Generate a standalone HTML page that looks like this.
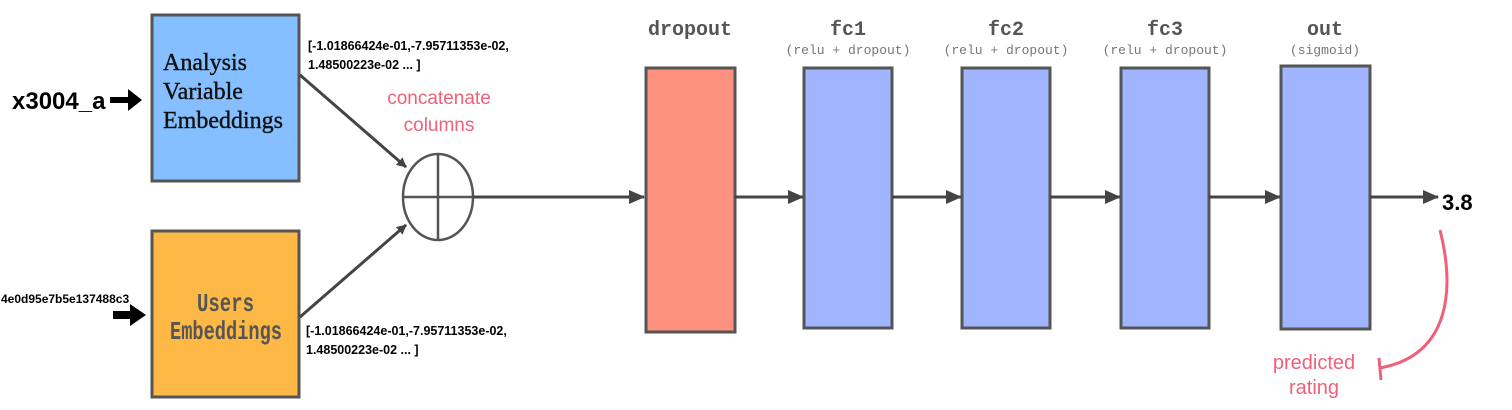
<!DOCTYPE html>
<html><head><meta charset="utf-8"><style>
body{margin:0;background:#fff;width:1512px;height:410px;overflow:hidden}
svg{display:block}
.mono{font-family:"Liberation Mono",monospace}
.sans{font-family:"Liberation Sans",sans-serif}
</style></head><body>
<svg width="1512" height="410" viewBox="0 0 1512 410">
<defs>
<marker id="ah" markerWidth="10" markerHeight="10" refX="9" refY="5" orient="auto" markerUnits="userSpaceOnUse"><path d="M0,0 L10,5 L0,10 z" fill="#444"/></marker>
<marker id="ah2" markerWidth="16" markerHeight="14" refX="15" refY="7" orient="auto" markerUnits="userSpaceOnUse"><path d="M0,0 L16,7 L0,14 z" fill="#444"/></marker>
</defs>
<g>
<text x="12" y="109" class="sans" font-size="24" font-weight="bold" fill="#000">x3004_a</text>
<path d="M110,97 h18 v-8 l14,11 l-14,11 v-8 h-18z" fill="#000"/>
</g>
<g>
<text x="1" y="303" class="sans" font-size="12" font-weight="bold" fill="#000">4e0d95e7b5e137488c3</text>
<path d="M113,311 h17 v-7 l16,11 l-16,11 v-7 h-17z" fill="#000"/>
</g>
<rect x="152" y="15" width="147" height="166" fill="#85bfff" stroke="#555" stroke-width="3"/>
<text font-family="'Liberation Serif',serif" font-size="24" fill="#111" stroke="#111" stroke-width="0.4"><tspan x="163" y="70">Analysis</tspan><tspan x="163" y="99">Variable</tspan><tspan x="163" y="128">Embeddings</tspan></text>
<rect x="152" y="231" width="147" height="166" fill="#fdb845" stroke="#555" stroke-width="3"/>
<text class="mono" font-size="26" font-weight="bold" fill="#555"><tspan x="197" y="311" textLength="57" lengthAdjust="spacingAndGlyphs">Users</tspan><tspan x="170" y="339" textLength="112" lengthAdjust="spacingAndGlyphs">Embeddings</tspan></text>
<text class="sans" font-size="12.5" font-weight="bold" fill="#000"><tspan x="308" y="50">[-1.01866424e-01,-7.95711353e-02,</tspan><tspan x="308" y="69">1.48500223e-02 ... ]</tspan></text>
<text class="sans" font-size="12.5" font-weight="bold" fill="#000"><tspan x="306" y="335">[-1.01866424e-01,-7.95711353e-02,</tspan><tspan x="306" y="354">1.48500223e-02 ... ]</tspan></text>
<text class="sans" font-size="19" fill="#f0607a" text-anchor="middle"><tspan x="439" y="104">concatenate</tspan><tspan x="439" y="131">columns</tspan></text>
<line x1="300" y1="75" x2="406" y2="167" stroke="#444" stroke-width="3" marker-end="url(#ah)"/>
<line x1="300" y1="317" x2="406" y2="225" stroke="#444" stroke-width="3" marker-end="url(#ah)"/>
<g stroke="#555" stroke-width="2.5" fill="none">
<ellipse cx="438" cy="197" rx="35" ry="43"/><line x1="403" y1="197" x2="473" y2="197"/><line x1="438" y1="154" x2="438" y2="240"/>
</g>
<line x1="473" y1="197" x2="644" y2="197" stroke="#444" stroke-width="3" marker-end="url(#ah2)"/>
<rect x="646" y="68" width="89" height="264" fill="#fe9180" stroke="#555" stroke-width="3"/>
<text x="690" y="35" class="mono" font-size="20" font-weight="bold" fill="#555" text-anchor="middle">dropout</text>
<g class="layers">
<rect x="804" y="68" width="88" height="260" fill="#a0b4ff" stroke="#555" stroke-width="3"/>
<rect x="962" y="68" width="88" height="260" fill="#a0b4ff" stroke="#555" stroke-width="3"/>
<rect x="1121" y="68" width="88" height="260" fill="#a0b4ff" stroke="#555" stroke-width="3"/>
<rect x="1281" y="66" width="89" height="263" fill="#a0b4ff" stroke="#555" stroke-width="3"/>
</g>
<text x="848" y="35" class="mono" font-size="20" font-weight="bold" fill="#555" text-anchor="middle">fc1</text>
<text x="848" y="54" class="mono" font-size="13" fill="#777" text-anchor="middle">(relu + dropout)</text>
<text x="1006" y="35" class="mono" font-size="20" font-weight="bold" fill="#555" text-anchor="middle">fc2</text>
<text x="1006" y="54" class="mono" font-size="13" fill="#777" text-anchor="middle">(relu + dropout)</text>
<text x="1165" y="35" class="mono" font-size="20" font-weight="bold" fill="#555" text-anchor="middle">fc3</text>
<text x="1165" y="54" class="mono" font-size="13" fill="#777" text-anchor="middle">(relu + dropout)</text>
<text x="1325" y="35" class="mono" font-size="20" font-weight="bold" fill="#555" text-anchor="middle">out</text>
<text x="1325" y="54" class="mono" font-size="13" fill="#777" text-anchor="middle">(sigmoid)</text>
<g stroke="#444" stroke-width="3">
<line x1="735" y1="197" x2="803" y2="197" marker-end="url(#ah2)"/>
<line x1="892" y1="197" x2="961" y2="197" marker-end="url(#ah2)"/>
<line x1="1050" y1="197" x2="1120" y2="197" marker-end="url(#ah2)"/>
<line x1="1209" y1="197" x2="1280" y2="197" marker-end="url(#ah2)"/>
<line x1="1370" y1="197" x2="1438" y2="197" marker-end="url(#ah2)"/>
</g>
<text x="1442" y="210" class="sans" font-size="22" font-weight="bold" fill="#000">3.8</text>
<path d="M1440,230 C1455,290 1450,355 1380,368" fill="none" stroke="#f0607a" stroke-width="3"/>
<line x1="1379" y1="358" x2="1381" y2="380" stroke="#f0607a" stroke-width="3"/>
<text class="sans" font-size="20" fill="#f0607a" text-anchor="middle"><tspan x="1314" y="369">predicted</tspan><tspan x="1314" y="394">rating</tspan></text>
</svg>
</body></html>
